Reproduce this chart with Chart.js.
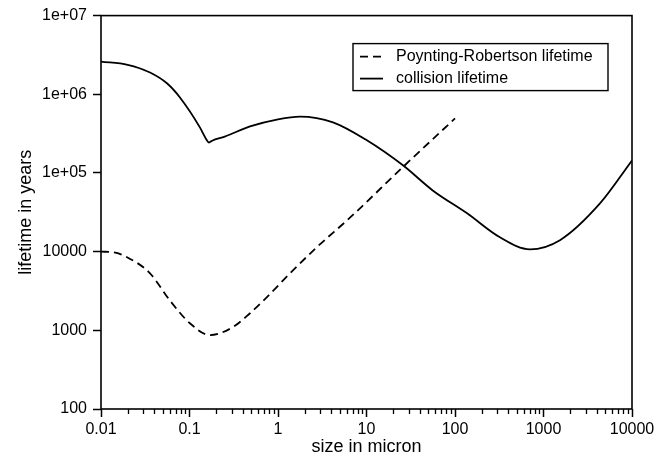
<!DOCTYPE html>
<html>
<head>
<meta charset="utf-8">
<script src="https://cdn.jsdelivr.net/npm/chart.js@4/dist/chart.umd.min.js"></script>
<style>
  html, body { margin: 0; padding: 0; background: #fff; }
</style>
</head>
<body>
<canvas id="chart" width="658" height="461"></canvas>
<script>
// axis ticks
const xTickValues = [0.01, 0.1, 1, 10, 100, 1000, 10000];
const xTickLabels = ["0.01", "0.1", "1", "10", "100", "1000", "10000"];
const yTickValues = [100, 1000, 10000, 1e5, 1e6, 1e7];
const yTickLabels = ["100", "1000", "10000", "1e+05", "1e+06", "1e+07"];

// Poynting-Robertson lifetime (dashed)
const prSize = [0.01, 0.014, 0.0197, 0.0358, 0.06, 0.101, 0.17, 0.31, 0.483, 0.75, 1.37, 2.75, 6.5, 25.8, 100];
const prLife = [10000, 9800, 8500, 5300, 2400, 1230, 870, 1100, 1650, 2640, 5320, 11400, 27000, 119000, 493000];

// collision lifetime (solid)
const colSize = [0.01, 0.02, 0.0358, 0.056, 0.078, 0.131, 0.155, 0.166, 0.18, 0.25, 0.483, 1.0, 1.77, 4.18, 10.1, 25.8, 56, 137, 322, 703, 1535, 4345, 10000];
const colLife = [2.6e6, 2.37e6, 1.89e6, 1.37e6, 9.1e5, 3.8e5, 2.67e5, 2.44e5, 2.57e5, 2.9e5, 3.9e5, 4.8e5, 5.2e5, 4.4e5, 2.6e5, 1.25e5, 6.0e4, 3.07e4, 1.52e4, 1.07e4, 1.4e4, 4.1e4, 1.44e5];

const seriesNames = ["Poynting-Robertson lifetime", "collision lifetime"];

const FONT = "'Liberation Sans', Arial, Helvetica, sans-serif";
Chart.defaults.font.family = FONT;
Chart.defaults.color = "#000";

// minor ticks between decades on the x axis
const xMinor = [];
for (let i = 0; i < xTickValues.length - 1; i++) {
  for (let m = 2; m <= 9; m++) xMinor.push(xTickValues[i] * m);
}
const sameLog = (a, b) => Math.abs(Math.log10(a) - Math.log10(b)) < 1e-6;
const isMajorX = (v) => xTickValues.some((t) => sameLog(v, t));

const toPoints = (xs, ys) => xs.map((x, i) => ({ x: x, y: ys[i] }));

const framePlugin = {
  id: "frame",
  afterDraw(chart) {
    const { ctx, chartArea: a, scales } = chart;
    ctx.save();
    ctx.strokeStyle = "#000";
    ctx.lineWidth = 1.6;
    ctx.strokeRect(a.left, a.top, a.right - a.left, a.bottom - a.top);

    // short minor ticks
    ctx.lineWidth = 1.3;
    ctx.beginPath();
    xMinor.forEach((v) => {
      const px = Math.round(scales.x.getPixelForValue(v)) + 0.5;
      ctx.moveTo(px, a.bottom);
      ctx.lineTo(px, a.bottom + 5);
    });
    ctx.stroke();

    // legend box
    const bx = a.left + 252, by = a.top + 28, bw = 255, bh = 47;
    ctx.fillStyle = "#fff";
    ctx.fillRect(bx, by, bw, bh);
    ctx.lineWidth = 1.4;
    ctx.strokeRect(bx, by, bw, bh);
    ctx.font = "16px " + FONT;
    ctx.textBaseline = "middle";
    ctx.fillStyle = "#000";
    chart.data.datasets.forEach((ds, i) => {
      const ly = by + 13 + i * 22;
      ctx.setLineDash(ds.borderDash || []);
      ctx.lineWidth = ds.borderWidth;
      ctx.beginPath();
      ctx.moveTo(bx + 7, ly);
      ctx.lineTo(bx + 30, ly);
      ctx.stroke();
      ctx.setLineDash([]);
      ctx.fillText(ds.label, bx + 43, ly);
    });
    ctx.restore();
  },
};

new Chart(document.getElementById("chart"), {
  type: "line",
  data: {
    datasets: [
      {
        label: seriesNames[0],
        data: toPoints(prSize, prLife),
        borderColor: "#000",
        borderWidth: 1.8,
        borderDash: [8, 5],
        pointRadius: 0,
        cubicInterpolationMode: "monotone",
        fill: false,
      },
      {
        label: seriesNames[1],
        data: toPoints(colSize, colLife),
        borderColor: "#000",
        borderWidth: 1.8,
        pointRadius: 0,
        cubicInterpolationMode: "monotone",
        fill: false,
      },
    ],
  },
  options: {
    responsive: false,
    animation: false,
    devicePixelRatio: 1,
    layout: { padding: { left: 0, right: 26, top: 15, bottom: 0 } },
    plugins: { legend: { display: false }, tooltip: { enabled: false } },
    scales: {
      x: {
        type: "logarithmic",
        min: 0.01,
        max: 10000,
        afterBuildTicks: (s) => {
          s.ticks = xTickValues.concat(xMinor).sort((a, b) => a - b).map((v) => ({ value: v }));
        },
        afterFit: (s) => { s.height = 52; },
        border: { display: false },
        grid: {
          drawOnChartArea: false,
          tickLength: 8,
          tickWidth: 1.5,
          tickColor: (c) => (c.tick && isMajorX(c.tick.value) ? "#000" : "rgba(0,0,0,0)"),
        },
        ticks: {
          autoSkip: false,
          maxRotation: 0,
          padding: 3,
          font: { size: 16 },
          callback: (v) => {
            const i = xTickValues.findIndex((t) => sameLog(v, t));
            return i >= 0 ? xTickLabels[i] : "";
          },
        },
        title: { display: true, text: "size in micron", font: { size: 18, lineHeight: 1.1 } },
      },
      y: {
        type: "logarithmic",
        min: 100,
        max: 1e7,
        afterBuildTicks: (s) => {
          s.ticks = yTickValues.map((v) => ({ value: v }));
        },
        afterFit: (s) => { s.width = 101; },
        border: { display: false },
        grid: { drawOnChartArea: false, tickLength: 8, tickWidth: 1.5, tickColor: "#000" },
        ticks: {
          autoSkip: false,
          padding: 6,
          font: { size: 16 },
          callback: (v) => {
            const i = yTickValues.findIndex((t) => sameLog(v, t));
            return i >= 0 ? yTickLabels[i] : "";
          },
        },
        title: { display: true, text: "lifetime in years", font: { size: 18, lineHeight: 2.4 } },
      },
    },
  },
  plugins: [framePlugin],
});
</script>
</body>
</html>
